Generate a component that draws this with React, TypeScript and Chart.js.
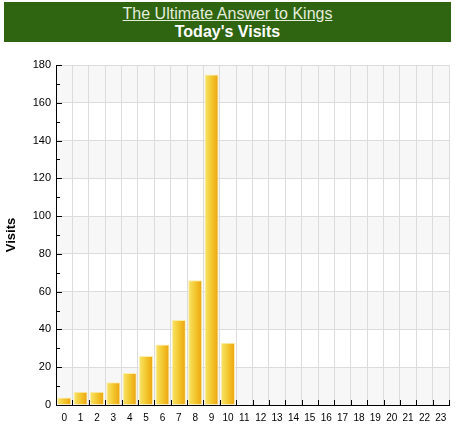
import { useEffect, useRef } from "react"
import { Chart, registerables, type Plugin } from "chart.js"
Chart.register(...registerables)

const HOURS = ["0", "1", "2", "3", "4", "5", "6", "7", "8", "9", "10", "11", "12", "13", "14", "15", "16", "17", "18", "19", "20", "21", "22", "23"]
const VISITS = [4, 7, 7, 12, 17, 26, 32, 45, 66, 175, 33, null, null, null, null, null, null, null, null, null, null, null, null, null]
const Y_MAJOR = [0, 20, 40, 60, 80, 100, 120, 140, 160, 180]

const FONT = "'Liberation Sans', Arial, sans-serif"
const BAR_PCT = 0.86

// alternating grey/white bands behind the bars
const bandsPlugin: Plugin<"bar"> = {
  id: "bands",
  beforeDraw(chart) {
    const { ctx, chartArea: a, scales } = chart
    const y = scales.y
    ctx.save()
    ctx.fillStyle = "#ffffff"
    ctx.fillRect(a.left, a.top, a.right - a.left, a.bottom - a.top)
    ctx.fillStyle = "#f7f7f7"
    for (let i = 0; i < Y_MAJOR.length - 1; i += 2) {
      const top = y.getPixelForValue(Y_MAJOR[i + 1])
      const bot = y.getPixelForValue(Y_MAJOR[i])
      ctx.fillRect(a.left, top, a.right - a.left, bot - top)
    }
    ctx.restore()
  },
}

// tick marks pointing into the plot
const ticksPlugin: Plugin<"bar"> = {
  id: "innerTicks",
  afterDraw(chart) {
    const { ctx, chartArea: a, scales } = chart
    const x = scales.x
    const y = scales.y
    ctx.save()
    ctx.strokeStyle = "#000"
    ctx.lineWidth = 1
    ctx.beginPath()
    for (let v = 0; v <= 180; v += 10) {
      const py = Math.round(y.getPixelForValue(v)) + 0.5
      const len = v % 20 === 0 ? 6 : 4
      ctx.moveTo(a.left, py)
      ctx.lineTo(a.left + len, py)
    }
    const step = x.getPixelForValue(1) - x.getPixelForValue(0)
    for (let i = 0; i <= HOURS.length; i++) {
      const px = Math.round(x.getPixelForValue(0) - step / 2 + i * step) + 0.5
      ctx.moveTo(px, a.bottom)
      ctx.lineTo(px, a.bottom - 5)
    }
    ctx.stroke()
    ctx.restore()
  },
}

export default function App() {
  const canvasRef = useRef<HTMLCanvasElement>(null)

  useEffect(() => {
    document.body.style.margin = "0"
    const canvas = canvasRef.current
    if (!canvas) return

    const chart = new Chart(canvas, {
      type: "bar",
      data: {
        labels: HOURS,
        datasets: [{
          data: VISITS,
          backgroundColor: (c) => {
            const ch = c.chart
            const xs = ch.scales?.x
            if (!xs || !ch.chartArea) return "#f2c232"
            const cx = xs.getPixelForValue(c.dataIndex)
            const w = (xs.getPixelForValue(1) - xs.getPixelForValue(0)) * BAR_PCT
            const g = ch.ctx.createLinearGradient(cx - w / 2, 0, cx + w / 2, 0)
            g.addColorStop(0, "#f7e66c")
            g.addColorStop(0.5, "#f3c72e")
            g.addColorStop(1, "#eca20e")
            return g
          },
          borderColor: "#fbedac",
          borderWidth: 1,
          borderSkipped: "bottom",
          barPercentage: BAR_PCT,
          categoryPercentage: 1,
        }],
      },
      options: {
        responsive: false,
        animation: false,
        layout: { padding: { top: 65, right: 6, left: 0, bottom: 0 } },
        plugins: {
          legend: { display: false },
          tooltip: { enabled: false },
        },
        scales: {
          x: {
            offset: true,
            grid: { offset: true, color: "#dcdcdc", drawTicks: false },
            border: { color: "#000", width: 1 },
            ticks: {
              color: "#000",
              padding: 7,
              autoSkip: false,
              maxRotation: 0,
              font: { family: FONT, size: 10 },
            },
            afterFit: (s) => { s.height = 27 },
          },
          y: {
            min: 0,
            max: 180,
            grid: { color: "#dcdcdc", drawTicks: false },
            border: { color: "#000", width: 1 },
            ticks: {
              stepSize: 20,
              color: "#000",
              padding: 5,
              font: { family: FONT, size: 11 },
            },
            title: {
              display: true,
              text: "Visits",
              color: "#000",
              font: { family: FONT, size: 13, weight: "bold" },
              padding: { top: 4, bottom: 0 },
            },
            afterFit: (s) => { s.width = 56 },
          },
        },
      },
      plugins: [bandsPlugin, ticksPlugin],
    })

    return () => { chart.destroy() }
  }, [])

  return (
    <div style={{ position: "relative", width: 455, height: 432, background: "#fff", fontFamily: FONT }}>
      <div
        style={{
          position: "absolute", left: 4, top: 2, width: 447, height: 40,
          background: "#2f6411", color: "#fff", textAlign: "center",
        }}
      >
        <div style={{ fontSize: 16, lineHeight: "19px", paddingTop: 2, color: "#e4eedc", textDecoration: "underline" }}>
          The Ultimate Answer to Kings
        </div>
        <div style={{ fontSize: 16, lineHeight: "18px", fontWeight: "bold" }}>Today's Visits</div>
      </div>
      <canvas ref={canvasRef} width={455} height={432} style={{ display: "block" }} />
    </div>
  )
}
